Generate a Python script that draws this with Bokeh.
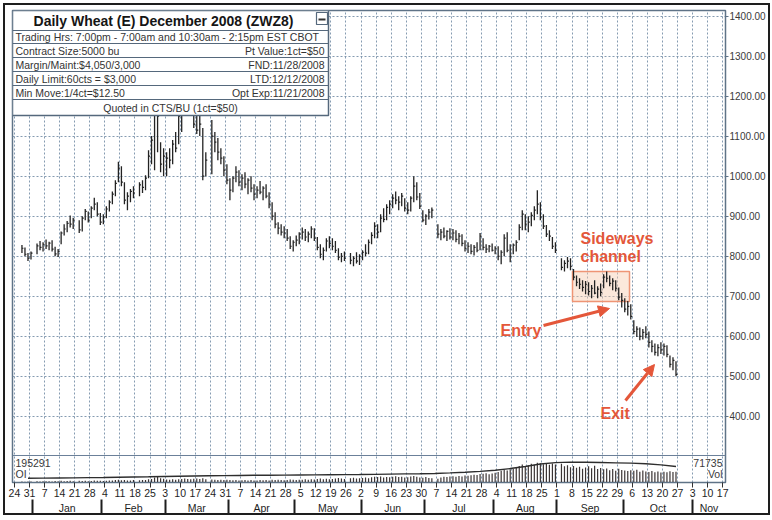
import numpy as np
import pandas as pd
from bokeh.plotting import figure
from bokeh.models import (Range1d, LinearAxis, FixedTicker, NumeralTickFormatter,
                          Span, Arrow, NormalHead, ColumnDataSource)
from bokeh.core.properties import value
from bokeh.embed import file_html
from bokeh.resources import INLINE

# ---------------- data (one row = Mon..Fri of one week, first row = week of 2007-12-24) ----
first_day = "2007-12-24"
N = None
high = [
    N, N, 828, 822, 808,
    812, N, 832, 838, 835,
    842, 836, 840, 824, 818,
    862, 880, 888, 902, 896,
    N, 890, 900, 918, 912,
    925, 946, 935, 908, 905,
    925, 940, 962, 990, 1036,
    1025, 985, 960, 968, 975,
    N, 985, 990, 1002, 1065,
    1100, 1260, 1320, 1085, 1070,
    1060, 1070, 1090, 1110, 1160,
    1180, 1240, 1280, 1250, 1200,
    1170, 1150, 1120, 1060, N,
    1140, 1110, 1095, 1070, 1050,
    1030, 995, 1000, 1025, 1015,
    1005, 1010, 995, 1000, 980,
    975, 988, 975, 980, 960,
    935, 910, 885, 880, 875,
    868, 850, 840, 852, 860,
    872, 868, 862, 875, 870,
    848, 830, 822, 845, 850,
    845, 838, 820, 808, 812,
    N, 808, 800, 810, 805,
    815, 830, 842, 860, 885,
    880, 905, 920, 930, 940,
    955, 962, 950, 958, 945,
    935, 950, 1000, 985, 958,
    915, 905, 918, 922, N,
    880, 868, 872, 865, 870,
    868, 865, 858, 855, 840,
    835, 830, 828, 835, 858,
    845, 830, 828, 832, 825,
    825, 815, 855, 860, 830,
    832, 840, 880, 915, 905,
    900, 910, 925, 965, 935,
    905, 878, 865, 848, 835,
    N, 795, 790, 798, 795,
    768, 752, 745, 740, 738,
    735, 728, 740, 725, 732,
    755, 762, 752, 745, 740,
    722, 708, 695, 688, 680,
    640, 625, 622, 618, 625,
    612, 590, 582, 580, 585,
    582, 578, 552, 548, 538,
]
low = [
    N, N, 808, 800, 788,
    792, N, 805, 815, 812,
    818, 815, 812, 800, 798,
    830, 852, 860, 872, 868,
    N, 858, 862, 890, 884,
    895, 915, 900, 878, 880,
    895, 912, 930, 950, 985,
    975, 930, 915, 935, 945,
    N, 950, 958, 965, 995,
    1030, 1015, 1060, 1010, 1000,
    1000, 1020, 1030, 1060, 1080,
    1110, 1165, 1200, 1180, 1120,
    1105, 1100, 990, 1000, N,
    1005, 1060, 1040, 1030, 1000,
    980, 940, 960, 985, 975,
    965, 970, 955, 960, 940,
    945, 955, 940, 945, 920,
    890, 870, 855, 852, 845,
    838, 818, 812, 825, 830,
    842, 838, 835, 845, 838,
    815, 795, 790, 812, 820,
    815, 808, 790, 785, 788,
    N, 780, 775, 782, 778,
    790, 800, 805, 830, 845,
    845, 860, 885, 890, 905,
    920, 930, 915, 925, 912,
    905, 912, 935, 940, 918,
    885, 878, 892, 895, N,
    845, 840, 845, 838, 842,
    840, 835, 830, 825, 812,
    808, 805, 802, 810, 815,
    815, 808, 810, 812, 805,
    790, 780, 800, 810, 785,
    805, 812, 840, 865, 865,
    860, 875, 890, 905, 890,
    868, 848, 838, 818, 808,
    N, 765, 762, 770, 765,
    740, 725, 718, 712, 705,
    702, 695, 705, 695, 700,
    720, 735, 725, 715, 712,
    690, 672, 660, 652, 642,
    605, 598, 590, 592, 595,
    572, 560, 552, 550, 556,
    552, 548, 522, 515, 500,
]
close = [
    N, N, 820, 805, 795,
    808, N, 826, 822, 830,
    826, 833, 818, 806, 812,
    858, 868, 882, 880, 890,
    N, 866, 895, 912, 890,
    920, 930, 905, 885, 898,
    918, 935, 955, 982, 1020,
    985, 940, 950, 962, 958,
    N, 978, 972, 995, 1050,
    1090, 1200, 1150, 1030, 1050,
    1045, 1040, 1080, 1070, 1150,
    1170, 1230, 1220, 1200, 1130,
    1115, 1130, 1000, 1040, N,
    1100, 1085, 1060, 1045, 1015,
    990, 965, 995, 1010, 985,
    995, 980, 990, 970, 955,
    965, 960, 970, 950, 930,
    900, 880, 870, 860, 858,
    845, 825, 835, 840, 855,
    860, 848, 855, 868, 845,
    822, 805, 815, 838, 832,
    825, 815, 798, 800, 795,
    N, 790, 795, 788, 800,
    810, 808, 835, 852, 875,
    860, 895, 892, 922, 930,
    945, 940, 935, 950, 920,
    915, 945, 975, 948, 925,
    890, 900, 910, 915, N,
    855, 860, 850, 862, 848,
    858, 842, 850, 832, 820,
    825, 812, 822, 815, 850,
    822, 818, 825, 815, 820,
    800, 810, 845, 815, 800,
    828, 835, 872, 905, 880,
    885, 902, 915, 930, 898,
    875, 855, 850, 825, 815,
    N, 772, 782, 788, 775,
    748, 735, 730, 722, 730,
    712, 720, 708, 718, 710,
    748, 745, 732, 738, 720,
    698, 690, 668, 675, 650,
    612, 618, 600, 610, 605,
    585, 575, 560, 572, 566,
    575, 555, 530, 540, 505,
]
volume_k = [
    N, N, 6, 5, 7,
    6, N, 8, 7, 9,
    8, 9, 7, 10, 8,
    11, 9, 10, 12, 9,
    N, 12, 10, 11, 9,
    10, 13, 11, 12, 10,
    12, 14, 13, 16, 18,
    15, 17, 14, 13, 16,
    N, 15, 17, 16, 22,
    24, 34, 36, 28, 25,
    20, 18, 22, 19, 21,
    23, 26, 24, 22, 25,
    27, 24, 28, 22, N,
    20, 18, 17, 19, 16,
    18, 16, 15, 17, 14,
    15, 17, 14, 16, 13,
    14, 16, 15, 17, 14,
    18, 16, 19, 17, 15,
    17, 20, 18, 16, 19,
    18, 21, 19, 22, 20,
    23, 26, 22, 25, 21,
    24, 27, 30, 26, 23,
    N, 28, 31, 27, 29,
    30, 33, 29, 35, 38,
    36, 40, 34, 37, 35,
    38, 42, 36, 39, 33,
    35, 40, 44, 38, 34,
    32, 36, 30, 28, N,
    25, 34, 38, 36, 40,
    42, 38, 44, 40, 46,
    45, 48, 52, 50, 56,
    58, 62, 55, 60, 65,
    70, 78, 85, 80, 88,
    92, 98, 110, 120, 105,
    115, 125, 118, 132, 128,
    122, 130, 118, 126, 120,
    N, 125, 108, 115, 102,
    110, 98, 105, 92, 100,
    108, 95, 112, 90, 96,
    88, 94, 82, 90, 78,
    92, 84, 80, 76, 82,
    78, 85, 72, 80, 74,
    70, 76, 68, 74, 66,
    72, 68, 75, 70, 71.735,
]
# open interest (thousands), one value per week (Friday)
oi_k = [52, 53, 55, 57, 59, 61, 64, 67, 70, 74, 77, 80, 82, 84, 86, 88, 89, 90, 92, 93,
        95, 96, 97, 99, 102, 105, 107, 110, 117, 125, 136, 150, 170, 195, 225, 242, 248,
        247, 244, 240, 236, 228, 215, 195.291]

price_ticks = [400, 500, 600, 700, 800, 900, 1000, 1100, 1200, 1300, 1400]
month_names = ["Jan", "Feb", "Mar", "Apr", "May", "Jun", "Jul", "Aug", "Sep", "Oct", "Nov"]
info_title = "Daily Wheat (E) December 2008 (ZWZ8)"
info_rows = [
    ("Trading Hrs: 7:00pm - 7:00am and 10:30am - 2:15pm EST CBOT", ""),
    ("Contract Size:5000 bu", "Pt Value:1ct=$50"),
    ("Margin/Maint:$4,050/3,000", "FND:11/28/2008"),
    ("Daily Limit:60cts = $3,000", "LTD:12/12/2008"),
    ("Min Move:1/4ct=$12.50", "Opt Exp:11/21/2008"),
]
info_footer = "Quoted in CTS/BU (1ct=$50)"

# ---------------- geometry helpers (image pixels -> data units, for annotations only) ----
X0, DX = 32.0, 3.014      # image x of the Jan-1 boundary, pixels per weekday
Y0, DY = 15.5, 0.4004     # image y of 1400 cents, pixels per cent


def px(xp):
    return (xp - X0) / DX - 0.5


def py(yp):
    return 1400 - (yp - Y0) / DY


origin = np.datetime64("2008-01-01")
days = pd.bdate_range(first_day, periods=len(high)).values.astype("datetime64[D]")
bx = np.busday_count(origin, days).astype(float)

H = np.array(high, dtype=float)
L = np.array(low, dtype=float)
C = np.array(close, dtype=float)
V = np.array(volume_k, dtype=float)

src = ColumnDataSource(dict(x=bx, hi=H, lo=L, cl=C, cx=bx + 0.5, vol=V, zero=np.zeros_like(V)))

mondays = pd.date_range(first_day, "2008-11-17", freq="W-MON")
mon_w = np.busday_count(origin, mondays.values.astype("datetime64[D]")).astype(float)
week_ticks = [float(w - 0.5) for w in mon_w]
week_labels = {t: str(d.day) for t, d in zip(week_ticks, mondays)}

oi_x = mon_w[:len(oi_k)] + 4

bdays = pd.bdate_range("2008-01-01", "2008-11-30")
firsts = []
for m in range(1, 12):
    d = bdays[bdays.month == m][0]
    firsts.append(float(np.busday_count(origin, np.datetime64(d.date())) - 0.5))

XR = Range1d(px(12), px(725))
YR = Range1d(py(482), py(10))

p = figure(width=767, height=512, x_range=XR, y_range=YR, output_backend="svg",
           toolbar_location=None, y_axis_location="right",
           min_border_left=7, min_border_right=47, min_border_top=5, min_border_bottom=35,
           background_fill_color="white", border_fill_color="white",
           styles={"position": "relative", "left": "3px", "top": "3px",
                   "border": "2px solid #1e1e1e"})
p.outline_line_color = "#5f7387"
p.outline_line_width = 1.5

p.extra_y_ranges = {"vol": Range1d(0, 472 * 100 / 15), "oi": Range1d(0, 472 * 12.2)}

FONT = "Liberation Sans"

# grid
p.ygrid.ticker = FixedTicker(ticks=price_ticks)
p.xgrid.ticker = FixedTicker(ticks=week_ticks)
for g in (p.xgrid, p.ygrid):
    g.grid_line_color = "#7890a8"
    g.grid_line_dash = "2 2"
    g.grid_line_width = 1
    g.grid_line_alpha = 0.9

# right price axis
ya = p.yaxis[0]
ya.ticker = FixedTicker(ticks=price_ticks)
ya.formatter = NumeralTickFormatter(format="0.00")
ya.major_label_text_font = FONT
ya.major_label_text_font_size = "10px"
ya.major_label_text_color = "#3a3a3a"
ya.major_tick_out = 3
ya.major_tick_in = 0
ya.major_tick_line_color = "#5f7387"
ya.minor_tick_line_color = None
ya.axis_line_color = "#5f7387"
ya.major_label_standoff = 1

# day-of-month axis
xa = p.xaxis[0]
xa.ticker = FixedTicker(ticks=week_ticks)
xa.major_label_overrides = week_labels
xa.major_label_text_font = FONT
xa.major_label_text_font_size = "10.5px"
xa.major_label_text_color = "#1e1e1e"
xa.major_tick_out = 5
xa.major_tick_in = 0
xa.major_tick_line_color = "#333333"
xa.minor_tick_line_color = None
xa.axis_line_color = "#5f7387"
xa.major_label_standoff = 1

# month axis: names centred in each month, separators drawn as (outward) minor ticks
mids = []
for i in range(len(firsts)):
    right = firsts[i + 1] if i + 1 < len(firsts) else XR.end
    mids.append(float((firsts[i] + right) / 2))
ma = LinearAxis(ticker=FixedTicker(ticks=mids, minor_ticks=firsts),
                major_label_overrides={m: n for m, n in zip(mids, month_names)})
ma.major_label_text_font = FONT
ma.major_label_text_font_size = "10.5px"
ma.major_label_text_color = "#1e1e1e"
ma.major_tick_line_color = None
ma.major_tick_out = 0
ma.major_tick_in = 0
ma.minor_tick_out = 0
ma.minor_tick_in = -14
ma.minor_tick_line_color = "#1e1e1e"
ma.minor_tick_line_width = 2
ma.axis_line_color = None
ma.major_label_standoff = 2
p.add_layout(ma, "below")

# sideways channel box (behind bars)
RED = "#e4573a"
p.quad(left=[px(572)], right=[px(629)], bottom=[py(301)], top=[py(271)],
       fill_color="#f7cdb0", fill_alpha=0.45, line_color="#ee9575", line_width=1.5)

# price bars (HLC)
p.segment(x0="x", y0="lo", x1="x", y1="hi", source=src, line_color="#232323", line_width=1.3)
p.segment(x0="x", y0="cl", x1="cx", y1="cl", source=src, line_color="#232323", line_width=1.2)

# volume and open interest
p.add_layout(Span(location=py(455), dimension="width", line_color="#6b8099", line_width=1.2))
p.segment(x0="x", y0="zero", x1="x", y1="vol", source=src, y_range_name="vol",
          line_color="#3b3434", line_width=1.2)
p.line(oi_x, oi_k, y_range_name="oi", line_color="#2e2e2e", line_width=1.4)

p.text(x=[px(15), px(15)], y=[py(462), py(473)],
       text=[str(int(round(oi_k[-1] * 1000))), "OI"],
       text_font=value(FONT), text_font_size="10.5px", text_color="#3a3a3a",
       text_align="left", text_baseline="middle")
p.text(x=[px(722), px(722)], y=[py(462), py(473)],
       text=[str(int(round(volume_k[-1] * 1000))), "Vol"],
       text_font=value(FONT), text_font_size="10.5px", text_color="#3a3a3a",
       text_align="right", text_baseline="middle")

# info box
BOX = "#55687c"
p.quad(left=[px(12)], right=[px(328)], bottom=[py(115)], top=[py(10)],
       fill_color="white", line_color=BOX, line_width=1.5)
seps = [30, 43, 57, 71, 85, 99]
p.segment(x0=[px(12)] * len(seps), x1=[px(328)] * len(seps),
          y0=[py(s) for s in seps], y1=[py(s) for s in seps], line_color=BOX, line_width=1.2)
p.quad(left=[px(316)], right=[px(327)], bottom=[py(24)], top=[py(12)],
       fill_color="white", line_color=BOX, line_width=1.2)
p.segment(x0=[px(318)], x1=[px(325)], y0=[py(19)], y1=[py(19)], line_color="#333333", line_width=2)
p.text(x=[px(163)], y=[py(20.5)], text=[info_title], text_font=value(FONT),
       text_font_size="14px", text_font_style="bold", text_color="#151515",
       text_align="center", text_baseline="middle")
row_y = [36.5, 50, 64, 78, 92]
p.text(x=[px(15)] * len(info_rows), y=[py(r) for r in row_y], text=[r[0] for r in info_rows],
       text_font=value(FONT), text_font_size="10.5px", text_color="#333333",
       text_align="left", text_baseline="middle")
p.text(x=[px(324)] * len(info_rows), y=[py(r) for r in row_y], text=[r[1] for r in info_rows],
       text_font=value(FONT), text_font_size="10.5px", text_color="#333333",
       text_align="right", text_baseline="middle")
p.text(x=[px(170)], y=[py(107)], text=[info_footer], text_font=value(FONT),
       text_font_size="10.5px", text_color="#333333", text_align="center", text_baseline="middle")

# annotations
p.text(x=[px(580), px(580), px(500), px(600)], y=[py(238), py(256), py(330), py(413)],
       text=["Sideways", "channel", "Entry", "Exit"], text_font=value(FONT),
       text_font_size="16px", text_font_style="bold", text_color=RED,
       text_align="left", text_baseline="middle")
for (xs, ys, xe, ye) in [(543, 325, 609, 308), (625, 400, 654, 364)]:
    p.add_layout(Arrow(end=NormalHead(size=11, fill_color=RED, line_color=RED),
                       x_start=px(xs), y_start=py(ys), x_end=px(xe), y_end=py(ye),
                       line_color=RED, line_width=3))

open("out.html", "w").write(file_html(p, INLINE))
